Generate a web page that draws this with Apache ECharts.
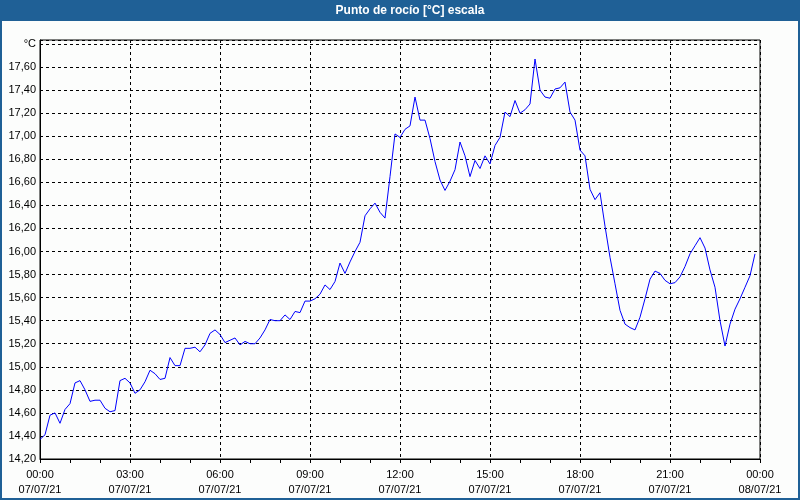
<!DOCTYPE html>
<html>
<head>
<meta charset="utf-8">
<script src="https://cdn.jsdelivr.net/npm/echarts@6/dist/echarts.min.js"></script>
<style>
html,body{margin:0;padding:0;background:#fcfdfc;}
#chart{width:800px;height:500px;}
</style>
</head>
<body>
<div id="chart"></div>
<script>
// Dew point readings, every 10 minutes from 07/07/21 00:00 to 23:50
const stepMinutes = 10;
const dewPoint = [
  14.37,14.41,14.58,14.60,14.51,14.63,14.68,14.86,14.88,14.80,14.70,14.71,
  14.71,14.64,14.61,14.62,14.88,14.90,14.86,14.77,14.80,14.87,14.97,14.94,
  14.89,14.90,15.08,15.01,15.01,15.16,15.16,15.17,15.13,15.19,15.29,15.32,
  15.28,15.21,15.23,15.25,15.19,15.22,15.20,15.20,15.25,15.32,15.41,15.40,
  15.40,15.45,15.41,15.48,15.47,15.57,15.57,15.59,15.63,15.71,15.67,15.74,
  15.90,15.81,15.91,16.00,16.08,16.31,16.37,16.42,16.34,16.29,16.65,17.02,
  16.99,17.06,17.09,17.34,17.14,17.14,16.98,16.78,16.62,16.53,16.61,16.71,
  16.95,16.83,16.65,16.79,16.72,16.83,16.76,16.92,16.99,17.21,17.17,17.31,
  17.20,17.23,17.28,17.67,17.40,17.34,17.33,17.41,17.42,17.47,17.21,17.14,
  16.88,16.83,16.54,16.45,16.51,16.22,15.95,15.72,15.49,15.37,15.34,15.32,
  15.43,15.59,15.76,15.83,15.81,15.75,15.72,15.73,15.78,15.87,15.98,16.05,
  16.12,16.03,15.84,15.69,15.40,15.18,15.37,15.50,15.59,15.69,15.79,15.98
];
const dayLabels = ['07/07/21', '08/07/21'];
const yTopLabel = '°C';
const titleText = 'Punto de rocío [°C] escala';

const chart = echarts.init(document.getElementById('chart'), null, {renderer: 'canvas'});
const font = '"Liberation Sans", Arial, sans-serif';
const dash = [3, 3];

const seriesData = dewPoint.map((v, i) => [i * stepMinutes, v]);

function pad(n) { return (n < 10 ? '0' : '') + n; }

chart.setOption({
  backgroundColor: '#fcfdfc',
  animation: false,
  graphic: [
    {type: 'rect', shape: {x: 0, y: 0, width: 800, height: 21}, style: {fill: '#1f6096'}, z: 10},
    {type: 'text', x: 410, y: 11, style: {text: titleText, fill: '#ffffff', font: 'bold 12px ' + font, align: 'center', verticalAlign: 'middle'}, z: 11},
    {type: 'rect', shape: {x: 1, y: 1, width: 798, height: 498}, style: {fill: 'none', stroke: '#1f6096', lineWidth: 2}, z: 10}
  ],
  grid: {
    left: 40, right: 40, top: 40, bottom: 41,
    show: true, borderColor: '#000', borderWidth: 1, backgroundColor: 'transparent'
  },
  xAxis: {
    type: 'value',
    min: 0, max: 1440, interval: 180,
    axisLine: {show: true, lineStyle: {color: '#000', width: 1}},
    axisTick: {show: true, length: 4, lineStyle: {color: '#000'}},
    minorTick: {show: true, splitNumber: 3, length: 4, lineStyle: {color: '#000'}},
    splitLine: {show: true, lineStyle: {color: '#000', type: dash, width: 1}},
    axisLabel: {
      color: '#000', fontFamily: font, fontSize: 11, lineHeight: 15, margin: 8,
      showMinLabel: true, showMaxLabel: true,
      formatter: function (v) {
        const h = Math.floor(v / 60) % 24;
        const d = v >= 1440 ? dayLabels[1] : dayLabels[0];
        return pad(h) + ':00\n' + d;
      }
    }
  },
  yAxis: {
    type: 'value',
    min: 14.2, max: 17.835, interval: 0.2,
    axisLine: {show: true, lineStyle: {color: '#000', width: 1}},
    axisTick: {show: false},
    splitLine: {show: true, lineStyle: {color: '#000', type: dash, width: 1}},
    axisLabel: {
      color: '#000', fontFamily: font, fontSize: 11, margin: 4,
      showMaxLabel: false,
      formatter: function (v) {
        if (Math.abs(v - 17.8) < 1e-6) return yTopLabel;
        if (v > 17.81) return '';
        return v.toFixed(2).replace('.', ',');
      }
    }
  },
  series: [{
    type: 'line',
    data: seriesData,
    showSymbol: false,
    smooth: false,
    lineStyle: {color: '#0000ff', width: 1},
    itemStyle: {color: '#0000ff'}
  }]
});
</script>
</body>
</html>
